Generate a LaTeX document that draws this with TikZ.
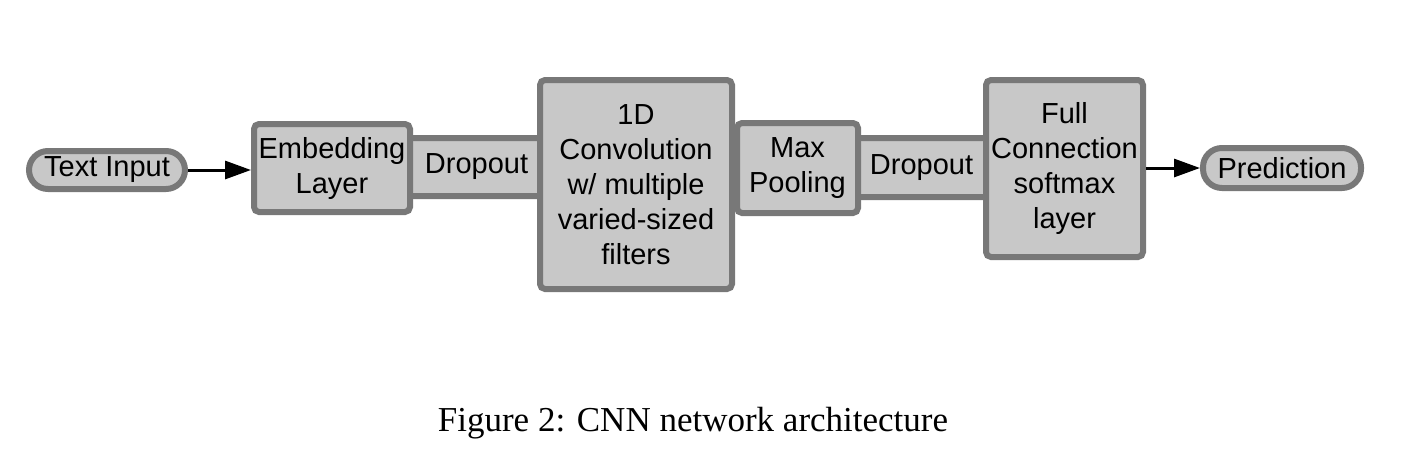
\documentclass[tikz,border=0pt]{standalone}
\usepackage{fontspec}
\setmainfont{Liberation Sans}
\newfontfamily\capfont{Liberation Serif}
\usetikzlibrary{arrows.meta}
\definecolor{bord}{HTML}{787878}
\definecolor{boxfill}{HTML}{C8C8C8}
\begin{document}
\begin{tikzpicture}[x=1pt,y=-1pt,
  blk/.style={draw=bord,fill=boxfill,line width=6pt,rounded corners=5pt,inner sep=0pt,
    align=center,font=\fontsize{29}{35}\selectfont},
  term/.style={draw=bord,fill=boxfill,line width=6pt,rounded corners=19pt,inner sep=0pt,
    align=center,font=\fontsize{29}{35}\selectfont},
  conn/.style={line width=3pt,-{Triangle[length=26pt,width=18pt]}}]
\useasboundingbox[fill=white] (0,0) rectangle (1408,458);
\node[term,minimum width=156pt,minimum height=38pt] (textin) at (107,170) {Text Input};
\node[blk,minimum width=150pt,minimum height=58pt] (drop1) at (476.5,167) {Dropout};
\node[blk,minimum width=150pt,minimum height=59pt] (drop2) at (921.5,167.5) {Dropout};
\node[blk,minimum width=121pt,minimum height=90pt] (maxp) at (797.5,168) {Max\\Pooling};
\node[blk,minimum width=156pt,minimum height=88pt] (emb) at (332,168) {Embedding\\Layer};
\node[blk,minimum width=192pt,minimum height=209pt] (conv) at (636,184.5) {1D\\Convolution\\w/ multiple\\varied-sized\\filters};
\node[blk,minimum width=157pt,minimum height=177pt] (fc) at (1064.5,168.5) {Full\\Connection\\softmax\\layer};
\node[term,minimum width=158pt,minimum height=40pt] (pred) at (1282,168) {Prediction};
\draw[conn] (textin.east) -- (emb.west |- textin.east);
\draw[conn] (fc.east |- pred.west) -- (pred.west);
\node[anchor=base,font=\capfont\fontsize{35}{40}\selectfont] (cap) at (693,431) {Figure 2: CNN network architecture};
\end{tikzpicture}
\end{document}
